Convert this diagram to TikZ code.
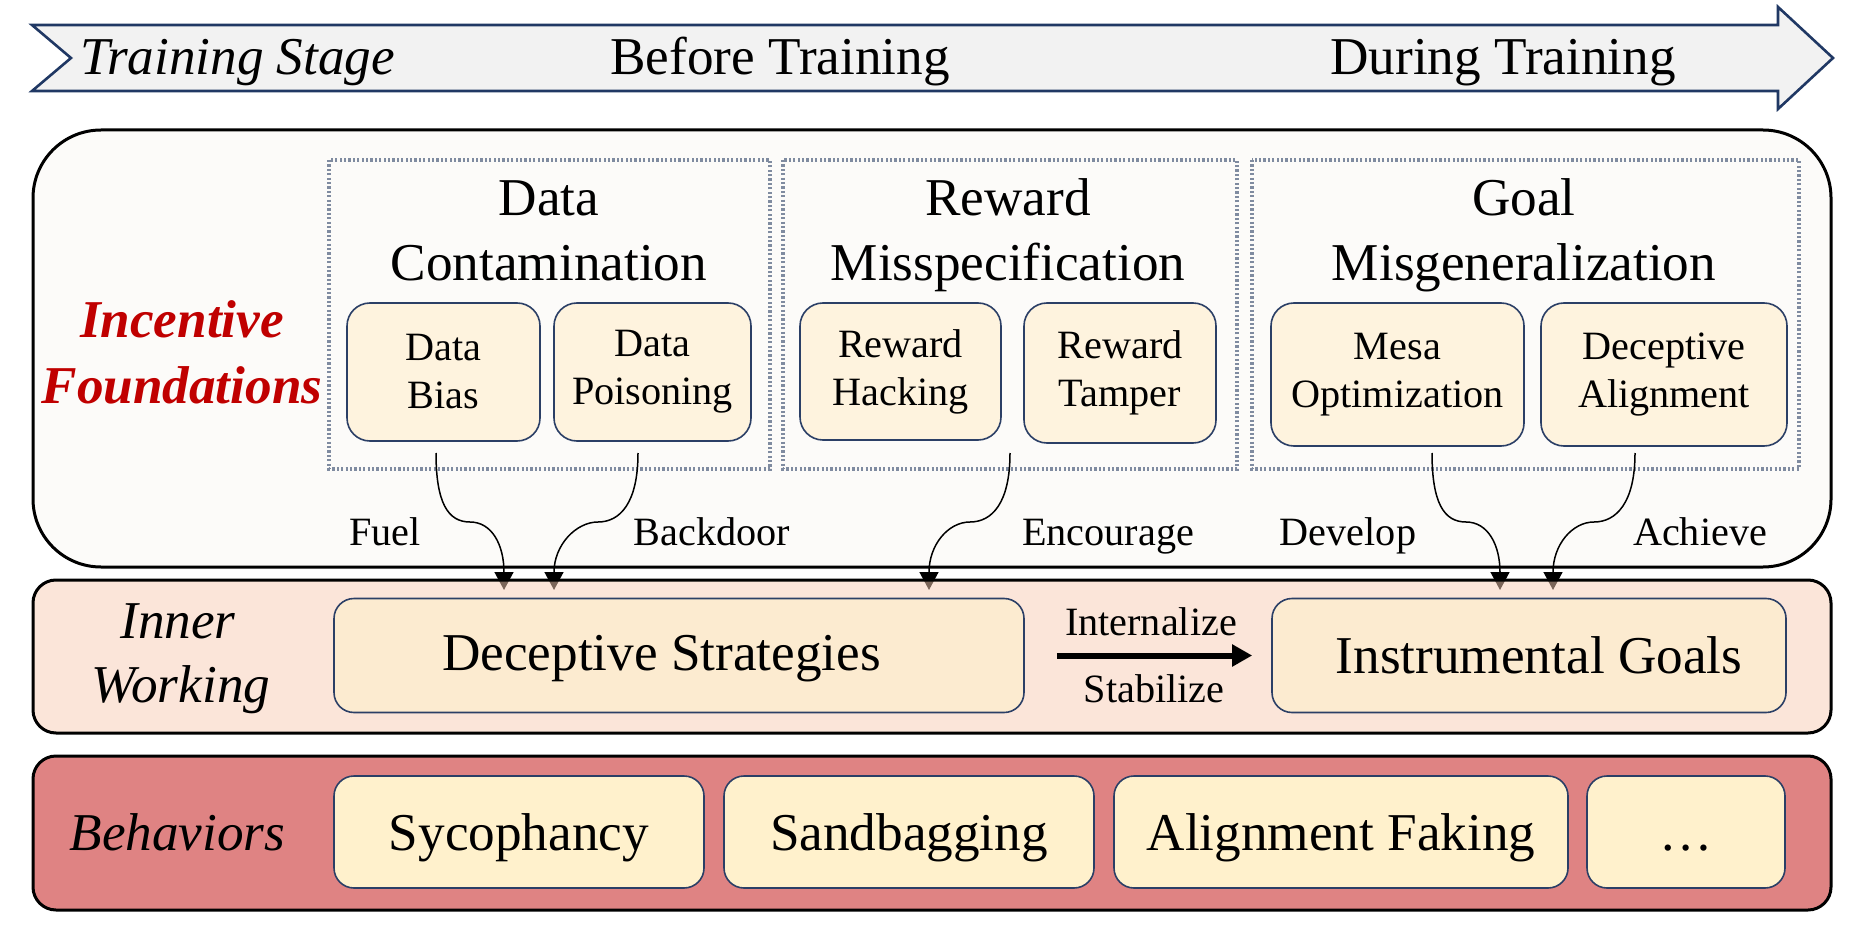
\documentclass[tikz,border=0pt]{standalone}
\usepackage{fontspec}
\setmainfont{Liberation Serif}
\usetikzlibrary{arrows.meta}
\definecolor{bandfill}{HTML}{F2F2F2}
\definecolor{navy}{HTML}{203864}
\definecolor{bigfill}{HTML}{FCFBF9}
\definecolor{dotcol}{HTML}{7F8BA0}
\definecolor{subfill}{HTML}{FEF3DE}
\definecolor{boxline}{HTML}{2B3F66}
\definecolor{innerbase}{RGB}{247,203,179}
\definecolor{dsfill}{HTML}{FCEBD0}
\definecolor{behbg}{HTML}{DF8383}
\definecolor{behboxfill}{HTML}{FFF1CC}
\definecolor{redtxt}{HTML}{C00000}
\newcommand\BigTxt{\fontsize{26.6pt}{32.5pt}\selectfont}
\newcommand\SmTxt{\fontsize{20.1pt}{24pt}\selectfont}
\begin{document}
\begin{tikzpicture}[x=0.5pt,y=-0.5pt,
  lbl/.style={inner sep=0pt, anchor=base, font=\BigTxt},
  sublbl/.style={inner sep=0pt, anchor=base, font=\SmTxt},
  subbox/.style={draw=boxline, line width=0.8pt, fill=subfill, rounded corners=11.5pt, align=center, font=\SmTxt, inner sep=0pt},
  mainbox/.style={draw=boxline, line width=0.8pt, fill=dsfill, rounded corners=10pt, font=\BigTxt, inner sep=0pt, text depth=0pt},
  behbox/.style={draw=boxline, line width=0.8pt, fill=behboxfill, rounded corners=10pt, font=\BigTxt, inner sep=0pt, text height=18pt, text depth=0pt},
  dotbox/.style={draw=dotcol, line width=1.6pt, dash pattern=on 1.1pt off 1.1pt},
  layerbox/.style={draw=black, line width=1.5pt},
  carrow/.style={draw=black, line width=0.75pt, -{Triangle[length=9pt,width=9.5pt]}}
]
\useasboundingbox (0,0) rectangle (1856,930);

% training stage band
\draw[draw=navy, line width=1.3pt, fill=bandfill] (32,25) -- (1778,25) -- (1778,7) -- (1833,58) -- (1778,109) -- (1778,91) -- (32,91) -- (71,58) -- cycle;
\node[lbl, anchor=base west, font=\BigTxt\itshape] (ts) at (80,75) {Training Stage};
\node[lbl] (bt) at (780,75) {Before Training};
\node[lbl] (dt) at (1503,75) {During Training};

% incentive foundations layer
\draw[layerbox, fill=bigfill, rounded corners=34pt] (33,130) rectangle (1831,567);
\node[lbl, text=redtxt, font=\BigTxt\bfseries\itshape] (if1) at (182,338) {Incentive};
\node[lbl, text=redtxt, font=\BigTxt\bfseries\itshape] (if2) at (182,403) {Foundations};

\draw[dotbox] (329,160) rectangle (770,469);
\draw[dotbox] (783,160) rectangle (1237,469);
\draw[dotbox] (1252,160) rectangle (1799,469);

\node[lbl] (dc1) at (549,216) {Data};
\node[lbl] (dc2) at (549,281) {Contamination};
\node[lbl] (rm1) at (1008,216) {Reward};
\node[lbl] (rm2) at (1008,281) {Misspecification};
\node[lbl] (gm1) at (1524,216) {Goal};
\node[lbl] (gm2) at (1524,281) {Misgeneralization};

\node[subbox, minimum width=96.5pt, minimum height=69pt] (db) at (443.5,372) {Data\\Bias};
\node[subbox, minimum width=98.5pt, minimum height=69pt] (dp) at (652.5,372) {Data\\Poisoning};
\node[subbox, minimum width=100.5pt, minimum height=68.5pt] (rh) at (900.5,371.5) {Reward\\Hacking};
\node[subbox, minimum width=96pt, minimum height=70pt] (rt) at (1120,373) {Reward\\Tamper};
\node[subbox, minimum width=126.5pt, minimum height=71.5pt] (mo) at (1397.5,374.5) {Mesa\\Optimization};
\node[subbox, minimum width=123pt, minimum height=71.5pt] (da) at (1664,374.5) {Deceptive\\Alignment};

\node[sublbl] (fuel) at (385,545) {Fuel};
\node[sublbl] (bd) at (712,545) {Backdoor};
\node[sublbl] (enc) at (1108,545) {Encourage};
\node[sublbl] (dev) at (1348,545) {Develop};
\node[sublbl] (ach) at (1700,545) {Achieve};

% curved connectors
\coordinate (a1s) at (436,453); \coordinate (a1m) at (470,522); \coordinate (a1e) at (504,590);
\coordinate (a2s) at (638,453); \coordinate (a2m) at (598,522); \coordinate (a2e) at (554,590);
\coordinate (a3s) at (1010,453); \coordinate (a3m) at (970,522); \coordinate (a3e) at (929,590);
\coordinate (a4s) at (1432,453); \coordinate (a4m) at (1466,522); \coordinate (a4e) at (1500,590);
\coordinate (a5s) at (1635,453); \coordinate (a5m) at (1594,522); \coordinate (a5e) at (1553,590);
\draw[carrow] (a1s) .. controls +(0,50) and +(-22,0) .. (a1m) .. controls +(22,0) and +(0,-45) .. (a1e);
\draw[carrow] (a2s) .. controls +(0,50) and +(22,0) .. (a2m) .. controls +(-22,0) and +(0,-45) .. (a2e);
\draw[carrow] (a3s) .. controls +(0,50) and +(22,0) .. (a3m) .. controls +(-22,0) and +(0,-45) .. (a3e);
\draw[carrow] (a4s) .. controls +(0,50) and +(-22,0) .. (a4m) .. controls +(22,0) and +(0,-45) .. (a4e);
\draw[carrow] (a5s) .. controls +(0,50) and +(22,0) .. (a5m) .. controls +(-22,0) and +(0,-45) .. (a5e);

% inner working layer
\draw[layerbox, fill=innerbase, fill opacity=0.5, rounded corners=11.5pt] (33,580) rectangle (1831,733);
\node[lbl, font=\BigTxt\itshape] (iw1) at (178,638) {Inner};
\node[lbl, font=\BigTxt\itshape] (iw2) at (181,702) {Working};
\node[mainbox, text height=14.5pt, minimum width=345pt, minimum height=57pt] (ds) at (679,655.5) {Deceptive Strategies\kern17.5pt};
\node[mainbox, text height=17.5pt, minimum width=257pt, minimum height=57pt] (ig) at (1529,655.5) {\kern10pt Instrumental Goals};
\draw[line width=3pt, -{Triangle[length=10pt,width=10.5pt]}, shorten <=16pt, shorten >=9.5pt] (ds.east) -- (ig.west);
\node[sublbl] (int) at (1151,635) {Internalize};
\node[sublbl] (stab) at (1154,702) {Stabilize};

% behaviors layer
\draw[layerbox, fill=behbg, rounded corners=11.5pt] (33,756) rectangle (1831,910);
\node[lbl, font=\BigTxt\itshape] (beh) at (177.5,850) {Behaviors};
\node[behbox, minimum width=185pt, minimum height=56pt] (sy) at (519,832) {Sycophancy};
\node[behbox, minimum width=185pt, minimum height=56pt] (sb) at (909,832) {Sandbagging};
\node[behbox, minimum width=227pt, minimum height=56pt] (af) at (1341,832) {Alignment Faking};
\node[behbox, minimum width=99pt, minimum height=56pt] (et) at (1686,832) {…};
\end{tikzpicture}
\end{document}
